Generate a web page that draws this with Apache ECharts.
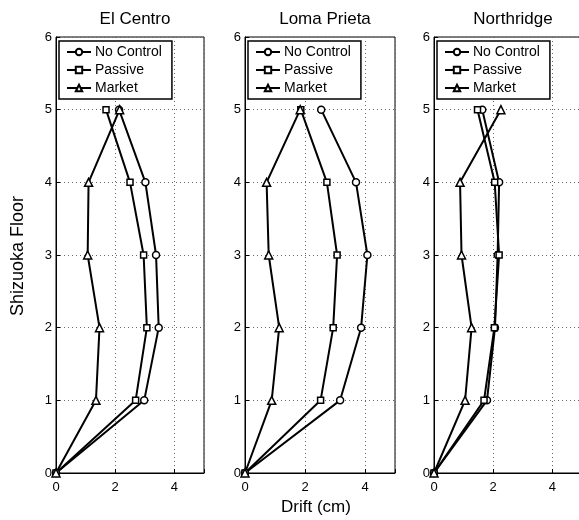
<!DOCTYPE html>
<html>
<head>
<meta charset="utf-8">
<script src="https://cdn.jsdelivr.net/npm/echarts@6/dist/echarts.min.js"></script>
<style>html,body{margin:0;padding:0;background:#fff;overflow:hidden}#c{width:600px;height:520px}</style>
</head>
<body>
<div id="c"></div>
<script>
const floors = [0, 1, 2, 3, 4, 5];
const panelTitles = ['El Centro', 'Loma Prieta', 'Northridge'];
const seriesNames = ['No Control', 'Passive', 'Market'];
const xTickValues = [0, 2, 4];

const elCentroNoControl = [0, 2.98, 3.47, 3.38, 3.02, 2.13];
const elCentroPassive   = [0, 2.69, 3.07, 2.96, 2.50, 1.69];
const elCentroMarket    = [0, 1.35, 1.47, 1.07, 1.10, 2.15];

const lomaPrietaNoControl = [0, 3.17, 3.87, 4.08, 3.70, 2.54];
const lomaPrietaPassive   = [0, 2.52, 2.94, 3.07, 2.73, 1.86];
const lomaPrietaMarket    = [0, 0.89, 1.14, 0.79, 0.72, 1.84];

const northridgeNoControl = [0, 1.79, 2.06, 2.15, 2.20, 1.63];
const northridgePassive   = [0, 1.69, 2.04, 2.20, 2.05, 1.47];
const northridgeMarket    = [0, 1.05, 1.27, 0.93, 0.88, 2.26];

const panelData = [
  [elCentroNoControl, elCentroPassive, elCentroMarket],
  [lomaPrietaNoControl, lomaPrietaPassive, lomaPrietaMarket],
  [northridgeNoControl, northridgePassive, northridgeMarket]
];

const FONT = 'Liberation Sans, Arial, Helvetica, sans-serif';
const grids = [
  {left: 56, top: 37, width: 148, height: 436},
  {left: 245, top: 37, width: 150, height: 436},
  {left: 434, top: 37, width: 148, height: 436}
];
const symbols = ['circle', 'rect', 'triangle'];
const symbolSizes = [7, 6, 8];

const option = {
  backgroundColor: '#fff',
  animation: false,
  title: panelTitles.map((t, i) => ({
    text: t,
    left: grids[i].left + grids[i].width / 2,
    top: 6,
    textAlign: 'center',
    textStyle: {fontFamily: FONT, fontSize: 17, fontWeight: 'normal', color: '#000'}
  })),
  grid: grids.map(g => Object.assign({show: true, borderColor: '#000', borderWidth: 1, backgroundColor: '#fff'}, g)),
  legend: grids.map((g, i) => ({
    data: seriesNames,
    orient: 'vertical',
    left: g.left + 3,
    top: 41,
    itemWidth: 24,
    itemHeight: 8,
    itemGap: 4,
    padding: [4, 10, 4, 7],
    borderColor: '#000',
    borderWidth: 1.5,
    backgroundColor: '#fff',
    selectedMode: false,
    textStyle: {fontFamily: FONT, fontSize: 14, color: '#000', padding: [0, 0, 0, -1]}
  })),
  xAxis: grids.map((g, i) => ({
    type: 'value',
    gridIndex: i,
    min: 0, max: 5, interval: 2,
    axisLine: {show: true, lineStyle: {color: '#000', width: 1}},
    axisTick: {show: true, inside: true, length: 4, lineStyle: {color: '#000'}},
    axisLabel: {
      fontFamily: FONT, fontSize: 13, color: '#000', margin: 8,
      formatter: v => (xTickValues.indexOf(v) >= 0 ? String(v) : '')
    },
    splitLine: {show: true, lineStyle: {color: '#666', type: [1, 3], width: 1}}
  })),
  yAxis: grids.map((g, i) => ({
    type: 'value',
    gridIndex: i,
    min: 0, max: 6, interval: 1,
    axisLine: {show: true, lineStyle: {color: '#000', width: 1}},
    axisTick: {show: true, inside: true, length: 4, lineStyle: {color: '#000'}},
    axisLabel: {fontFamily: FONT, fontSize: 13, color: '#000', margin: 4},
    splitLine: {show: true, lineStyle: {color: '#666', type: [1, 3], width: 1}}
  })),
  graphic: [
    {type: 'text', x: 18, y: 256, rotation: Math.PI / 2,
     style: {text: 'Shizuoka Floor', fontFamily: FONT, fontSize: 18, fill: '#000', textAlign: 'center', textVerticalAlign: 'middle'}},
    {type: 'text', x: 316, y: 507,
     style: {text: 'Drift (cm)', fontFamily: FONT, fontSize: 17, fill: '#000', textAlign: 'center', textVerticalAlign: 'middle'}}
  ],
  series: []
};

panelData.forEach((sets, p) => {
  sets.forEach((vals, s) => {
    option.series.push({
      name: seriesNames[s],
      type: 'line',
      xAxisIndex: p,
      yAxisIndex: p,
      data: vals.map((v, k) => [v, floors[k]]),
      symbol: symbols[s],
      symbolSize: symbolSizes[s],
      showAllSymbol: true,
      lineStyle: {color: '#000', width: 2},
      itemStyle: {color: '#fff', borderColor: '#000', borderWidth: 1.5},
      z: 3
    });
  });
});

const chart = echarts.init(document.getElementById('c'), null, {renderer: 'canvas'});
chart.setOption(option);
</script>
</body>
</html>
